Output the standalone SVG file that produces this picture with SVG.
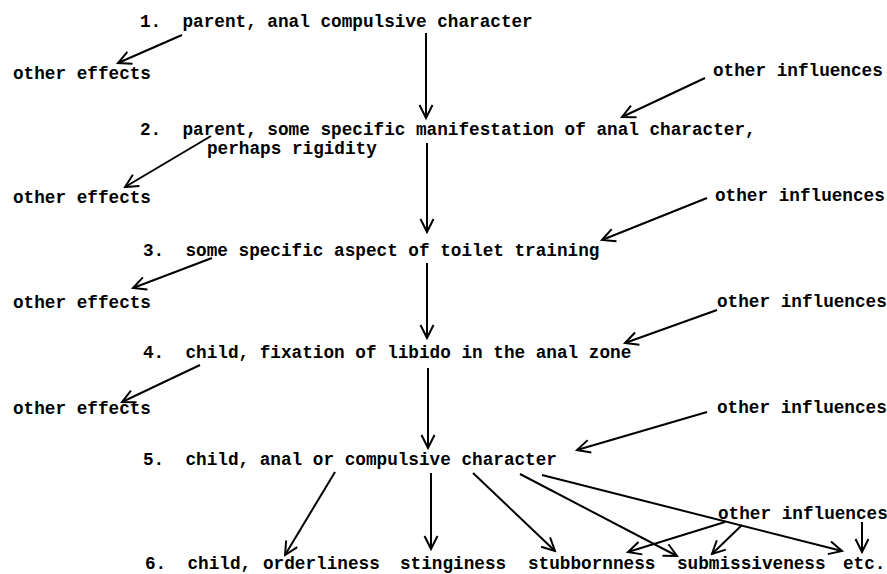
<svg xmlns="http://www.w3.org/2000/svg" width="887" height="574" viewBox="0 0 887 574">
<defs>
<marker id="ah" markerUnits="userSpaceOnUse" viewBox="-15 -9 17 18" markerWidth="17" markerHeight="18" refX="0" refY="0" orient="auto">
<path d="M-13,-6.5 L0,0 L-13,6.5" fill="none" stroke="#000" stroke-width="2" stroke-linejoin="miter"/>
</marker>
<style>
text{font-family:"Liberation Mono","Courier New",monospace;font-weight:bold;font-size:17.7px;fill:#000;white-space:pre}
.c line{stroke:#000;stroke-width:2;fill:none;marker-end:url(#ah)}
</style>
</defs>
<rect width="887" height="574" fill="#fff"/>
<g class="c" id="connectors">
<line x1="182" y1="35" x2="118" y2="63"/>
<line x1="705" y1="78" x2="622" y2="117"/>
<line x1="426" y1="33" x2="426" y2="118"/>
<line x1="211" y1="136" x2="125" y2="187"/>
<line x1="427" y1="143" x2="427" y2="232"/>
<line x1="707" y1="198" x2="602" y2="240"/>
<line x1="212" y1="258" x2="133" y2="288"/>
<line x1="427" y1="263" x2="427" y2="338"/>
<line x1="717" y1="310" x2="625" y2="343"/>
<line x1="200" y1="365" x2="122" y2="402"/>
<line x1="428" y1="368" x2="428" y2="448"/>
<line x1="707" y1="412" x2="577" y2="450"/>
<line x1="335" y1="472" x2="285" y2="555"/>
<line x1="431" y1="473" x2="431" y2="549"/>
<line x1="473" y1="473" x2="555" y2="551"/>
<line x1="520" y1="474" x2="677" y2="556"/>
<line x1="542" y1="475" x2="842" y2="551"/>
<line x1="725" y1="522" x2="628" y2="552"/>
<line x1="742" y1="525" x2="712" y2="554"/>
<line x1="862" y1="522" x2="862" y2="552"/>
</g>
<g id="n1"><text x="140" y="27">1.  parent, anal compulsive character</text></g>
<g id="n2"><text x="140" y="135">2.  parent, some specific manifestation of anal character,</text><text x="207" y="154">perhaps rigidity</text></g>
<g id="n3"><text x="143" y="256">3.  some specific aspect of toilet training</text></g>
<g id="n4"><text x="143" y="358">4.  child, fixation of libido in the anal zone</text></g>
<g id="n5"><text x="143" y="465">5.  child, anal or compulsive character</text></g>
<g id="n6"><text x="145" y="569">6.  child,</text></g>
<g id="n6a"><text x="263" y="569">orderliness</text></g>
<g id="n6b"><text x="400" y="569">stinginess</text></g>
<g id="n6c"><text x="528" y="569">stubbornness</text></g>
<g id="n6d"><text x="677" y="569">submissiveness</text></g>
<g id="n6e"><text x="843" y="569">etc.</text></g>
<g id="oe1"><text x="13" y="79">other effects</text></g>
<g id="oe2"><text x="13" y="203">other effects</text></g>
<g id="oe3"><text x="13" y="308">other effects</text></g>
<g id="oe4"><text x="13" y="414">other effects</text></g>
<g id="oi1"><text x="713" y="76">other influences</text></g>
<g id="oi2"><text x="715" y="201">other influences</text></g>
<g id="oi3"><text x="717" y="307">other influences</text></g>
<g id="oi4"><text x="717" y="413">other influences</text></g>
<g id="oi5"><text x="718" y="519">other influences</text></g>
</svg>
